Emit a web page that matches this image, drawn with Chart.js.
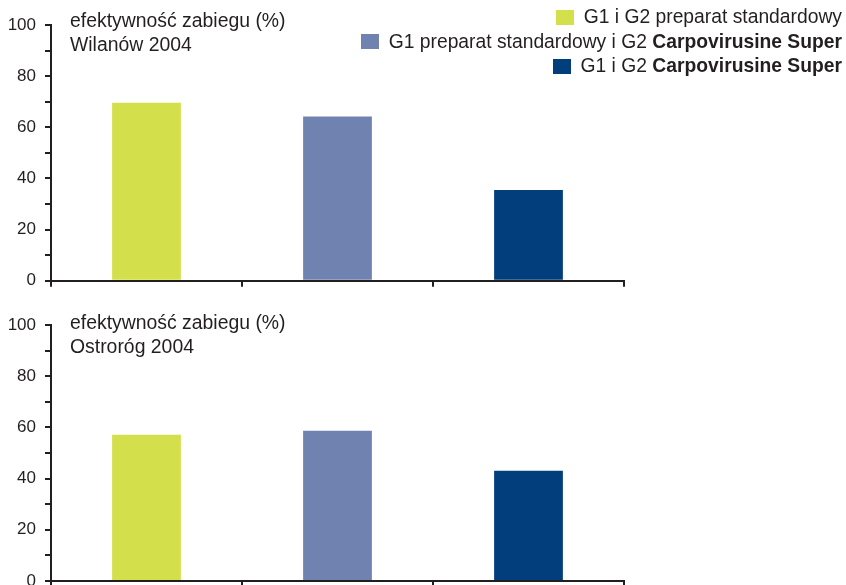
<!DOCTYPE html>
<html>
<head>
<meta charset="utf-8">
<script src="https://cdn.jsdelivr.net/npm/chart.js@4"></script>
<style>
    body { margin: 0; background: #fff; }
    #page { position: relative; width: 846px; height: 585px; overflow: hidden; font-family: "Liberation Sans", Arial, sans-serif; color: #231f20; }
    canvas { position: absolute; left: 0; }
    .titre { position: absolute; left: 70px; font-size: 19.4px; line-height: 24px; white-space: nowrap; }
    #legende { position: absolute; right: 4px; top: 5px; font-size: 19.3px; }
    .ligne { display: flex; justify-content: flex-end; align-items: center; height: 24.5px; white-space: nowrap; }
    .carre { width: 18px; height: 15px; margin-right: 10px; }
</style>
</head>
<body>
<div id="page">
    <canvas id="haut" width="846" height="300" style="top:0"></canvas>
    <canvas id="bas" width="846" height="305" style="top:300px"></canvas>
    <div class="titre" style="top:8px">efektywność zabiegu (%)<br>Wilanów 2004</div>
    <div class="titre" style="top:310px">efektywność zabiegu (%)<br>Ostroróg 2004</div>
    <div id="legende">
        <div class="ligne"><span class="carre" style="background:#d4df4c"></span>G1 i G2 preparat standardowy</div>
        <div class="ligne"><span class="carre" style="background:#7083b0"></span>G1 preparat standardowy i G2&nbsp;<b>Carpovirusine Super</b></div>
        <div class="ligne"><span class="carre" style="background:#023d7c"></span>G1 i G2&nbsp;<b>Carpovirusine Super</b></div>
    </div>
</div>
<script>
// categories (une barre par traitement)
const categories = [
    "G1 i G2 preparat standardowy",
    "G1 preparat standardowy i G2 Carpovirusine Super",
    "G1 i G2 Carpovirusine Super"
]
// efektywność zabiegu (%)
const wilanowValues = [69.6, 64.2, 35.5]
const ostrorogValues = [57.1, 58.7, 43.1]
const barColors = ["#d4df4c", "#7083b0", "#023d7c"]
const yMajorTicks = [0, 20, 40, 60, 80, 100]

const couleurAxe = "#231f20"

function Graphique(canvasId, valeurs, hauteurAxeX) {
    const canvas = document.getElementById(canvasId)
    return new Chart(canvas, {
        type: "bar",
        data: {
            labels: categories,
            datasets: [{
                data: valeurs,
                backgroundColor: barColors,
                barPercentage: 0.36,
                categoryPercentage: 1
            }]
        },
        options: {
            responsive: false,
            animation: false,
            devicePixelRatio: 1,
            layout: { padding: { top: 25, right: 222, left: 0, bottom: 0 } },
            plugins: {
                legend: { display: false }, // legende faite en html
                tooltip: { enabled: false }
            },
            scales: {
                x: {
                    grid: { display: true, drawOnChartArea: false, drawTicks: true, tickLength: 6, color: couleurAxe, lineWidth: 2, offset: true },
                    border: { color: couleurAxe, width: 2 },
                    ticks: { display: false },
                    afterFit: s => { s.height = hauteurAxeX }
                },
                y: {
                    min: 0,
                    max: 100,
                    ticks: {
                        stepSize: 10,
                        color: couleurAxe,
                        font: { family: "Liberation Sans", size: 17 },
                        padding: 9,
                        callback: v => yMajorTicks.includes(v) ? v : "" // graduations mineures sans texte
                    },
                    grid: { drawOnChartArea: false, drawTicks: true, tickLength: 6, color: couleurAxe, lineWidth: 2 },
                    border: { color: couleurAxe, width: 2 },
                    afterFit: s => { s.width = 51 }
                }
            }
        }
    })
}

window.addEventListener("DOMContentLoaded", () => {
    Graphique("haut", wilanowValues, 17)
    Graphique("bas", ostrorogValues, 24) // le bas depasse de la page, coupe comme dans l'original
})
</script>
</body>
</html>
